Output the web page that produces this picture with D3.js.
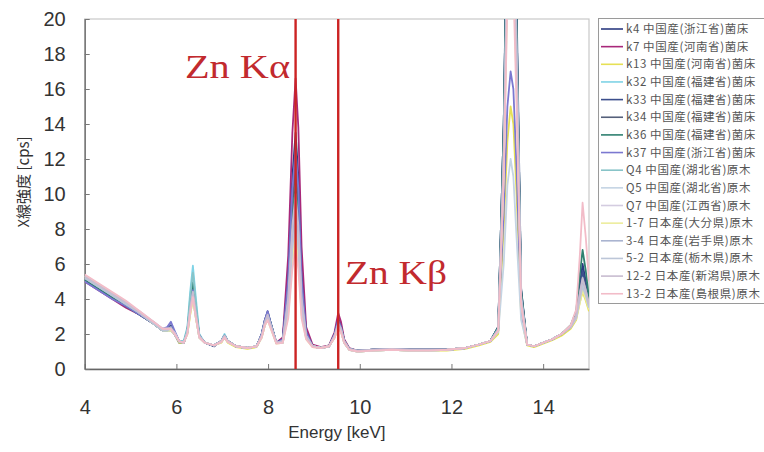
<!DOCTYPE html>
<html>
<head>
<meta charset="utf-8">
<script src="https://cdn.jsdelivr.net/npm/d3@7"></script>
<style>
  body { margin: 0; background: #fff; }
  svg { display: block; }
</style>
</head>
<body>
<div id="chart"></div>
<script>
// energy grid (keV) shared by every spectrum
const energy = [4.0, 4.3, 4.6, 4.9, 5.2, 5.5, 5.7, 5.8, 5.88, 5.96, 6.06, 6.16, 6.24, 6.30, 6.36, 6.42, 6.50, 6.62, 6.82, 6.98,
  7.05, 7.12, 7.3, 7.55, 7.75, 7.86, 7.93, 7.99, 8.06, 8.18, 8.32, 8.44, 8.53, 8.60, 8.66, 8.73, 8.83, 8.97, 9.15, 9.33,
  9.45, 9.53, 9.59, 9.66, 9.77, 9.95, 10.3, 10.7, 11.1, 11.5, 11.9, 12.3, 12.6, 12.85, 13.02, 13.14, 13.22, 13.29, 13.35, 13.42,
  13.52, 13.65, 13.8, 14.0, 14.2, 14.4, 14.6, 14.72, 14.80, 14.86, 14.93, 15.0];

const sampleNames = ["k4 中国産(浙江省)菌床", "k7 中国産(河南省)菌床", "k13 中国産(河南省)菌床", "k32 中国産(福建省)菌床",
  "k33 中国産(福建省)菌床", "k34 中国産(福建省)菌床", "k36 中国産(福建省)菌床", "k37 中国産(浙江省)菌床",
  "Q4 中国産(湖北省)原木", "Q5 中国産(湖北省)原木", "Q7 中国産(江西省)原木", "1-7 日本産(大分県)原木",
  "3-4 日本産(岩手県)原木", "5-2 日本産(栃木県)原木", "12-2 日本産(新潟県)原木", "13-2 日本産(島根県)原木"];

const sampleColors = ["#2b3a80", "#a8287a", "#e6e055", "#7fd3e6", "#3c4f8c", "#55607a", "#2f8070", "#7b78d0",
  "#88c4c8", "#c4d4e4", "#d4cce0", "#ecec9c", "#aab4d0", "#bcc6d8", "#c8bcd0", "#f2bcc8"];

// intensities [cps], one array per sample
const k4 = [5.1,4.6,4.1,3.6,3.1,2.6,2.2,2.3,2.4,2.0,1.5,1.5,2.2,3.7,4.8,3.5,1.9,1.5,1.3,1.6,1.9,1.6,1.3,1.2,1.3,2.0,2.8,3.3,2.6,1.5,1.7,
  5.4,11,13.5,11,5.5,2.1,
  1.3,1.2,1.3,2.0,2.9,2.5,1.6,1.15,1.05,1.1,1.15,1.1,1.1,1.1,1.2,1.4,1.6,
  2.4,14,27,30,28,20,4.5,
  1.4,1.3,1.5,1.7,2.0,2.4,3.1,4.8,6.0,5.0,3.8];
const k7 = [5.0,4.5,4.0,3.5,3.1,2.6,2.2,2.2,2.3,2.0,1.6,1.5,2.1,3.3,4.3,3.2,1.9,1.5,1.35,1.6,1.9,1.6,1.3,1.2,1.3,1.9,2.6,3.0,2.5,1.5,1.8,
  6.5,13.5,16.6,13.8,7.0,2.4,
  1.4,1.25,1.35,2.1,3.2,2.7,1.7,1.2,1.05,1.1,1.15,1.1,1.1,1.1,1.2,1.4,1.6,
  2.3,13,25,27,26,19,4.2,
  1.4,1.3,1.5,1.7,2.0,2.4,3.0,4.2,5.0,4.4,3.6];
const k13 = [5.2,4.7,4.2,3.7,3.2,2.6,2.2,2.2,2.2,2.0,1.5,1.5,2.0,3.1,4.0,3.0,1.8,1.5,1.35,1.5,1.8,1.5,1.25,1.15,1.25,1.8,2.5,2.9,2.4,1.5,1.5,
  3.6,7.0,8.5,7.0,3.6,1.8,
  1.3,1.2,1.3,1.8,2.4,2.2,1.5,1.1,1.0,1.05,1.1,1.05,1.05,1.05,1.15,1.35,1.55,
  2.0,8.0,13,15,14,10,3.0,
  1.35,1.25,1.45,1.65,1.9,2.3,2.8,3.8,4.4,3.9,3.3];
const k32 = [5.1,4.6,4.1,3.6,3.2,2.6,2.2,2.2,2.3,2.0,1.6,1.6,2.4,4.4,5.9,4.2,2.0,1.5,1.35,1.6,2.0,1.6,1.3,1.2,1.3,1.9,2.7,3.1,2.5,1.5,1.6,
  4.1,8.2,10,8.2,4.1,1.9,
  1.3,1.2,1.3,1.9,2.6,2.3,1.6,1.15,1.05,1.1,1.15,1.1,1.1,1.1,1.2,1.4,1.6,
  2.3,13,26,29,27,19,4.2,
  1.4,1.3,1.5,1.7,2.0,2.4,3.0,4.3,5.3,4.6,3.7];
const k33 = [5.1,4.6,4.1,3.6,3.1,2.6,2.2,2.3,2.5,2.1,1.6,1.5,2.1,3.6,4.6,3.4,1.9,1.5,1.3,1.6,1.9,1.6,1.3,1.2,1.3,2.0,2.8,3.2,2.6,1.5,1.7,
  5.1,10.3,12.5,10.3,5.2,2.1,
  1.3,1.2,1.3,2.0,2.8,2.4,1.6,1.15,1.05,1.1,1.15,1.1,1.1,1.1,1.2,1.4,1.6,
  2.4,14,28,31,29,21,4.6,
  1.4,1.3,1.5,1.7,2.0,2.4,3.1,4.6,5.6,4.8,3.8];
const k34 = [5.2,4.7,4.2,3.7,3.2,2.6,2.2,2.2,2.3,2.0,1.55,1.5,2.1,3.4,4.3,3.2,1.9,1.5,1.35,1.6,1.9,1.6,1.3,1.2,1.3,1.9,2.7,3.1,2.5,1.5,1.6,
  4.7,9.4,11.5,9.4,4.7,2.0,
  1.3,1.2,1.3,1.9,2.7,2.4,1.6,1.15,1.05,1.1,1.15,1.1,1.1,1.1,1.2,1.4,1.6,
  2.3,13,25,28,26,19,4.3,
  1.4,1.3,1.5,1.7,2.0,2.4,3.0,4.4,5.2,4.5,3.7];
const k36 = [5.1,4.6,4.1,3.6,3.1,2.6,2.2,2.2,2.3,2.0,1.6,1.5,2.2,3.8,5.0,3.6,1.9,1.5,1.35,1.6,1.9,1.6,1.3,1.2,1.3,1.9,2.7,3.2,2.6,1.5,1.6,
  4.3,8.6,10.5,8.6,4.3,1.9,
  1.3,1.2,1.3,1.9,2.6,2.3,1.6,1.15,1.05,1.1,1.15,1.1,1.1,1.1,1.2,1.4,1.6,
  2.4,14,27,30,28,20,4.5,
  1.4,1.3,1.5,1.7,2.0,2.5,3.3,5.4,6.8,5.6,4.0];
const k37 = [5.0,4.5,4.0,3.6,3.1,2.6,2.3,2.4,2.7,2.2,1.6,1.5,2.1,3.5,4.5,3.3,1.9,1.5,1.35,1.6,1.9,1.6,1.3,1.2,1.3,2.0,2.8,3.3,2.6,1.5,1.7,
  5.1,10.3,12.5,10.3,5.1,2.1,
  1.3,1.2,1.3,2.0,2.8,2.4,1.6,1.15,1.05,1.1,1.15,1.1,1.1,1.1,1.2,1.4,1.6,
  2.2,9.0,15,17,16,11.5,3.3,
  1.4,1.3,1.5,1.7,2.0,2.4,3.0,4.2,5.0,4.4,3.6];
const q4 = [5.2,4.7,4.2,3.7,3.2,2.6,2.2,2.2,2.2,2.0,1.6,1.55,2.3,4.1,5.5,3.9,1.9,1.5,1.35,1.6,1.9,1.6,1.3,1.2,1.3,1.9,2.6,3.0,2.5,1.5,1.5,
  3.5,7.0,8.5,7.0,3.5,1.8,
  1.3,1.2,1.3,1.8,2.5,2.2,1.5,1.1,1.0,1.05,1.1,1.05,1.05,1.1,1.2,1.4,1.6,
  2.3,12,24,26,25,18,4.0,
  1.4,1.3,1.5,1.7,2.0,2.4,3.0,4.0,4.8,4.2,3.5];
const q5 = [5.3,4.8,4.3,3.8,3.2,2.6,2.2,2.2,2.2,2.0,1.6,1.5,2.1,3.3,4.2,3.1,1.8,1.5,1.35,1.55,1.8,1.55,1.3,1.2,1.3,1.8,2.5,2.9,2.4,1.5,1.6,
  3.9,7.8,9.5,7.8,3.9,1.9,
  1.3,1.2,1.3,1.8,2.5,2.2,1.5,1.1,1.0,1.05,1.1,1.05,1.05,1.1,1.2,1.4,1.6,
  2.1,6.0,10.5,12,11,7.5,2.8,
  1.4,1.3,1.5,1.7,2.0,2.4,2.9,3.9,4.6,4.1,3.5];
const q7 = [5.3,4.8,4.3,3.8,3.3,2.7,2.3,2.3,2.3,2.1,1.6,1.5,2.0,3.2,4.1,3.0,1.8,1.5,1.35,1.55,1.8,1.55,1.3,1.2,1.3,1.8,2.5,2.9,2.4,1.5,1.5,
  3.3,6.6,8.0,6.6,3.3,1.8,
  1.3,1.2,1.3,1.8,2.4,2.2,1.5,1.1,1.0,1.05,1.1,1.05,1.05,1.1,1.2,1.4,1.6,
  2.2,11,23,25,24,17,3.9,
  1.4,1.3,1.5,1.7,2.0,2.4,3.0,4.1,4.9,4.3,3.6];
const j1_7 = [5.3,4.8,4.3,3.8,3.2,2.6,2.2,2.2,2.2,2.0,1.55,1.5,2.0,3.1,4.0,3.0,1.8,1.5,1.35,1.55,1.8,1.55,1.3,1.2,1.3,1.8,2.5,2.8,2.3,1.45,1.5,
  3.1,6.2,7.5,6.2,3.1,1.7,
  1.25,1.2,1.3,1.8,2.4,2.1,1.5,1.1,1.0,1.05,1.1,1.05,1.05,1.1,1.2,1.4,1.6,
  2.2,11,22,24,23,16,3.8,
  1.4,1.3,1.5,1.7,2.0,2.4,2.9,3.8,4.5,4.0,3.4];
const j3_4 = [5.2,4.7,4.2,3.7,3.2,2.6,2.2,2.3,2.4,2.0,1.6,1.5,2.1,3.4,4.4,3.2,1.9,1.5,1.35,1.6,1.9,1.6,1.3,1.2,1.3,1.9,2.6,3.1,2.5,1.5,1.6,
  3.7,7.4,9.0,7.4,3.7,1.8,
  1.3,1.2,1.3,1.9,2.6,2.3,1.6,1.15,1.05,1.1,1.15,1.1,1.1,1.1,1.2,1.4,1.6,
  2.3,13,25,27,26,19,4.2,
  1.4,1.3,1.5,1.7,2.0,2.4,3.0,4.3,5.1,4.5,3.7];
const j5_2 = [5.2,4.7,4.2,3.7,3.2,2.6,2.2,2.2,2.3,2.0,1.55,1.5,2.1,3.3,4.2,3.1,1.8,1.5,1.35,1.55,1.85,1.55,1.3,1.2,1.3,1.85,2.6,3.0,2.4,1.5,1.5,
  3.5,7.0,8.5,7.0,3.5,1.8,
  1.3,1.2,1.3,1.85,2.5,2.2,1.5,1.1,1.0,1.05,1.1,1.05,1.05,1.1,1.2,1.4,1.6,
  2.2,12,24,26,25,18,4.0,
  1.4,1.3,1.5,1.7,2.0,2.4,2.9,4.0,4.7,4.2,3.5];
const j12_2 = [5.3,4.8,4.3,3.8,3.2,2.7,2.3,2.3,2.3,2.0,1.6,1.5,2.1,3.4,4.4,3.2,1.9,1.5,1.35,1.6,1.9,1.6,1.3,1.2,1.3,1.9,2.7,3.1,2.5,1.5,1.6,
  4.1,8.2,10,8.2,4.1,1.9,
  1.3,1.2,1.3,1.9,2.6,2.3,1.6,1.15,1.05,1.1,1.15,1.1,1.1,1.1,1.2,1.4,1.6,
  2.2,12,23,25,24,17,3.9,
  1.4,1.3,1.5,1.7,2.0,2.4,3.0,4.3,5.2,4.5,3.7];
const j13_2 = [5.4,4.9,4.4,3.9,3.3,2.7,2.3,2.3,2.3,2.0,1.6,1.5,2.0,3.2,4.1,3.0,1.8,1.5,1.35,1.55,1.8,1.55,1.3,1.2,1.3,1.8,2.5,2.8,2.3,1.45,1.5,
  2.9,5.7,7.0,5.7,2.9,1.7,
  1.25,1.2,1.3,1.8,2.4,2.1,1.5,1.1,1.0,1.05,1.1,1.05,1.05,1.1,1.2,1.4,1.6,
  2.2,11,21,23,22,15,3.7,
  1.4,1.3,1.5,1.7,2.0,2.5,3.4,6.5,9.5,7.5,5.0];

const spectra = [k4, k7, k13, k32, k33, k34, k36, k37, q4, q5, q7, j1_7, j3_4, j5_2, j12_2, j13_2];

const xTicks = [4, 6, 8, 10, 12, 14];
const yTicks = [0, 2, 4, 6, 8, 10, 12, 14, 16, 18, 20];
const znLines = [{ e: 8.6, label: "Zn Kα" }, { e: 9.53, label: "Zn Kβ" }];

const W = 764, H = 452;
const margin = { top: 19, right: 175, bottom: 83, left: 84.7 };

const svg = d3.select("#chart").append("svg")
  .attr("width", W)
  .attr("height", H);

const x = d3.scaleLinear().domain([4, 15]).range([margin.left, W - margin.right]);
const y = d3.scaleLinear().domain([0, 20]).range([H - margin.bottom, margin.top]);

// plot frame
svg.append("rect")
  .attr("x", x(4)).attr("y", y(20))
  .attr("width", x(15) - x(4)).attr("height", y(0) - y(20))
  .attr("fill", "none").attr("stroke", "#c8c8c8").attr("stroke-width", 1.2);

svg.append("clipPath").attr("id", "plotClip")
  .append("rect")
  .attr("x", x(4)).attr("y", y(20))
  .attr("width", x(15) - x(4)).attr("height", y(0) - y(20));

// axes, ticks pointing inwards
const xAxis = svg.append("g")
  .attr("transform", `translate(0,${y(0)})`)
  .call(d3.axisBottom(x).tickValues(xTicks).tickSize(-5).tickPadding(31).tickSizeOuter(0));
const yAxis = svg.append("g")
  .attr("transform", `translate(${x(4)},0)`)
  .call(d3.axisLeft(y).tickValues(yTicks).tickSize(-5).tickPadding(19).tickSizeOuter(0));

[xAxis, yAxis].forEach(g => {
  g.select(".domain").attr("stroke", "#666").attr("stroke-width", 1.3);
  g.selectAll(".tick line").attr("stroke", "#777");
  g.selectAll(".tick text")
    .attr("fill", "#333")
    .style("font-family", "Liberation Sans, Arial, sans-serif")
    .style("font-size", "20px");
});

svg.append("text")
  .attr("x", (x(4) + x(15)) / 2).attr("y", 438)
  .attr("text-anchor", "middle")
  .attr("fill", "#333")
  .style("font-family", "Liberation Sans, Arial, sans-serif")
  .style("font-size", "17px")
  .text("Energy [keV]");

svg.append("text")
  .attr("transform", "translate(29,182) rotate(-90)")
  .attr("text-anchor", "middle")
  .attr("fill", "#333")
  .style("font-family", "Noto Sans CJK JP, sans-serif")
  .style("font-size", "15px")
  .text("X線強度 [cps]");

// spectra
const line = d3.line()
  .x((d, i) => x(energy[i]))
  .y(d => y(d));

svg.append("g")
  .attr("clip-path", "url(#plotClip)")
  .selectAll("path")
  .data(spectra)
  .join("path")
  .attr("d", line)
  .attr("fill", "none")
  .attr("stroke", (d, i) => sampleColors[i])
  .attr("stroke-width", 1.8)
  .attr("stroke-linejoin", "round");

// Zn line markers
svg.selectAll(".zn-line")
  .data(znLines)
  .join("line")
  .attr("class", "zn-line")
  .attr("x1", d => x(d.e)).attr("x2", d => x(d.e))
  .attr("y1", y(20)).attr("y2", y(0))
  .attr("stroke", "#cc2424")
  .attr("stroke-width", 2.4);

const labelPos = [{ x: 185, y: 78, w: 105 }, { x: 345, y: 284, w: 102 }];
svg.selectAll(".zn-label")
  .data(znLines)
  .join("text")
  .attr("class", "zn-label")
  .attr("x", (d, i) => labelPos[i].x)
  .attr("y", (d, i) => labelPos[i].y)
  .attr("textLength", (d, i) => labelPos[i].w)
  .attr("lengthAdjust", "spacingAndGlyphs")
  .attr("fill", "#c22a2e")
  .style("font-family", "Liberation Serif, Times New Roman, serif")
  .style("font-size", "33px")
  .text(d => d.label);

// legend
const legend = svg.append("g");
legend.append("rect")
  .attr("x", 598.5).attr("y", 18.5)
  .attr("width", 190).attr("height", 285)
  .attr("fill", "#fff").attr("stroke", "#9a9a9a");

const rows = legend.selectAll("g.row")
  .data(sampleNames)
  .join("g")
  .attr("class", "row")
  .attr("transform", (d, i) => `translate(0,${29 + i * 17.65})`);

rows.append("line")
  .attr("x1", 601).attr("x2", 623)
  .attr("stroke", (d, i) => sampleColors[i])
  .attr("stroke-width", 1.6);

rows.append("text")
  .attr("x", 626).attr("dy", "0.35em")
  .attr("fill", "#555")
  .style("font-family", "Noto Sans CJK JP, sans-serif")
  .style("font-size", "11.5px")
  .style("letter-spacing", "0.6px")
  .text(d => d);
</script>
</body>
</html>
